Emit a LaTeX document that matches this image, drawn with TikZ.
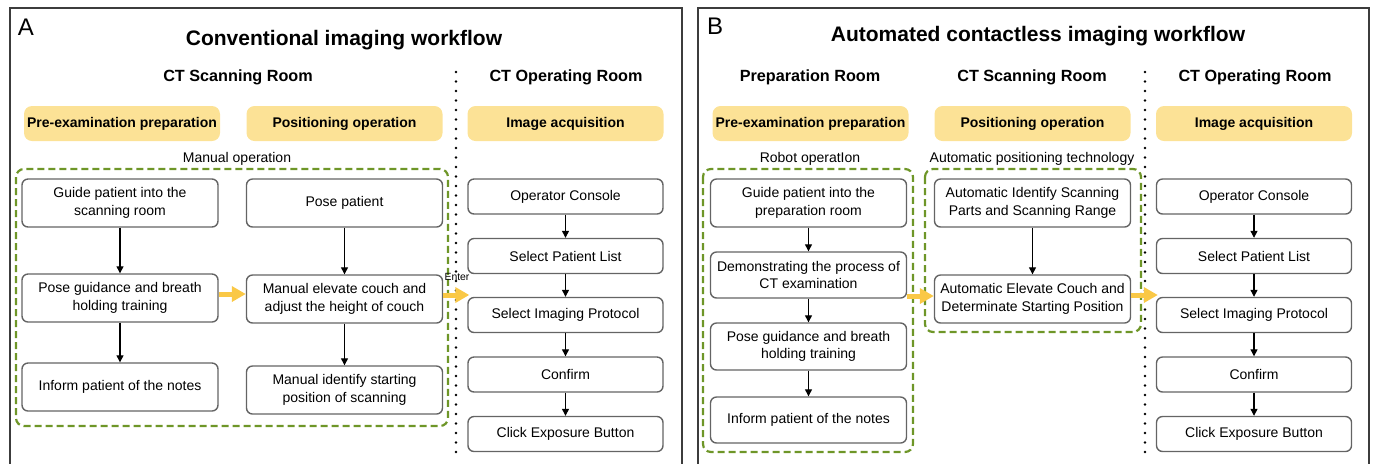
\documentclass[tikz,border=0pt]{standalone}
\usepackage{fontspec}
\setmainfont{Liberation Sans}
\usetikzlibrary{arrows.meta}
\definecolor{boxgray}{RGB}{100,100,100}
\definecolor{hdrfill}{RGB}{252,226,150}
\definecolor{flowyellow}{RGB}{250,200,70}
\definecolor{groupgreen}{RGB}{110,150,40}
\definecolor{framegray}{RGB}{60,60,60}

\begin{document}
\begin{tikzpicture}[x=0.5pt,y=-0.5pt,
  stepbox/.style={draw=boxgray, line width=0.7pt, rounded corners=3pt, fill=white,
    align=center, inner sep=0pt, minimum width=98pt, minimum height=24pt,
    font=\fontsize{7}{8.8}\selectfont},
  shortbox/.style={stepbox, minimum width=97.5pt, minimum height=17.5pt},
  header/.style={fill=hdrfill, rounded corners=4pt, minimum width=98pt,
    minimum height=17.5pt, inner sep=0pt, font=\bfseries\fontsize{7}{8}\selectfont},
  room/.style={font=\bfseries\fontsize{8.1}{9}\selectfont},
  maintitle/.style={font=\bfseries\fontsize{10.5}{12}\selectfont},
  panel/.style={font=\fontsize{12}{14}\selectfont},
  note/.style={font=\fontsize{7}{8}\selectfont},
  group/.style={draw=groupgreen, line width=1.1pt, dash pattern=on 3.5pt off 2pt, rounded corners=4pt},
  sep/.style={line width=1.4pt, line cap=round, dash pattern=on 0pt off 4.75pt},
  blk/.style={-{Triangle[length=3.5pt,width=3.5pt]}, line width=0.6pt, black},
  yarrow/.style={-{Triangle[length=7pt,width=7.5pt]}, line width=2.5pt, flowyellow}
]
\useasboundingbox (0,0) rectangle (1375,463);
\clip (0,0) rectangle (1375,463);

% panel frames
\draw[framegray, line width=0.6pt] (10,8) rectangle (682,475);
\draw[framegray, line width=0.6pt] (698,8) rectangle (1369,475);

% ---------------- Panel A ----------------
\node[panel] (labA) at (26,27) {A};
\node[maintitle] (titleA) at (344,40) {Conventional imaging workflow};
\node[room] (roomA1) at (238,77) {CT Scanning Room};
\node[room] (roomA2) at (566,77) {CT Operating Room};

\node[header] (hA1) at (122,123.5) {Pre-examination preparation};
\node[header] (hA2) at (344.5,123.5) {Positioning operation};
\node[header] (hA3) at (565.5,123.5) {Image acquisition};

\node[note] (opA) at (237,159) {Manual operation};
\draw[group] (16,169) rectangle (448,426);
\draw[sep] (456,72) -- (456,456);

\node[stepbox] (a1) at (120,203) {Guide patient into the\\scanning room};
\node[stepbox] (a2) at (120,298) {Pose guidance and breath\\holding training};
\node[stepbox] (a3) at (120,387) {Inform patient of the notes};
\node[stepbox] (a4) at (344.5,203) {Pose patient};
\node[stepbox] (a5) at (344.5,299) {Manual elevate couch and\\adjust the height of couch};
\node[stepbox] (a6) at (344.5,390) {Manual identify starting\\position of scanning};

\node[shortbox] (a7) at (565.5,196.5) {Operator Console};
\node[shortbox] (a8) at (565.5,256) {Select Patient List};
\node[shortbox] (a9) at (565.5,315) {Select Imaging Protocol};
\node[shortbox] (a10) at (565.5,374.5) {Confirm};
\node[shortbox] (a11) at (565.5,434) {Click Exposure Button};

\draw[blk] (a1) -- (a2);
\draw[blk] (a2) -- (a3);
\draw[blk] (a4) -- (a5);
\draw[blk] (a5) -- (a6);
\draw[blk] (a7) -- (a8);
\draw[blk] (a8) -- (a9);
\draw[blk] (a9) -- (a10);
\draw[blk] (a10) -- (a11);

\draw[yarrow] ([yshift=2pt]a2.east) -- ([yshift=2pt]a2.east -| a5.west);
\draw[yarrow] ([yshift=10pt]a9.west -| a5.east) -- ([yshift=10pt,xshift=1pt]a9.west);
\node[font=\fontsize{5.2}{6}\selectfont] (enterA) at (457,277) {Enter};

% ---------------- Panel B ----------------
\node[panel] (labB) at (715,26) {B};
\node[maintitle] (titleB) at (1038,36) {Automated contactless imaging workflow};
\node[room] (roomB1) at (810,77) {Preparation Room};
\node[room] (roomB2) at (1032,77) {CT Scanning Room};
\node[room] (roomB3) at (1255,77) {CT Operating Room};

\node[header] (hB1) at (810.5,123.5) {Pre-examination preparation};
\node[header] (hB2) at (1032.5,123.5) {Positioning operation};
\node[header] (hB3) at (1254,123.5) {Image acquisition};

\node[note] (opB1) at (810,159) {Robot operatIon};
\node[note] (opB2) at (1032,159) {Automatic positioning technology};
\draw[group] (703,169) rectangle (913,452);
\draw[group] (925,169) rectangle (1141,332);
\draw[sep] (1145,72) -- (1145,456);

\node[stepbox] (b1) at (808.5,203) {Guide patient into the\\preparation room};
\node[stepbox, minimum height=23pt] (b2) at (808.5,275) {Demonstrating the process of\\CT examination};
\node[stepbox, minimum height=23.5pt] (b3) at (808.5,346.5) {Pose guidance and breath\\holding training};
\node[stepbox, minimum height=23pt] (b4) at (808.5,420) {Inform patient of the notes};
\node[stepbox] (b5) at (1032.5,203) {Automatic Identify Scanning\\Parts and Scanning Range};
\node[stepbox] (b6) at (1032.5,299) {Automatic Elevate Couch and\\Determinate Starting Position};

\node[shortbox] (b7) at (1254,196.5) {Operator Console};
\node[shortbox] (b8) at (1254,256) {Select Patient List};
\node[shortbox] (b9) at (1254,315) {Select Imaging Protocol};
\node[shortbox] (b10) at (1254,374.5) {Confirm};
\node[shortbox] (b11) at (1254,434) {Click Exposure Button};

\draw[blk] (b1) -- (b2);
\draw[blk] (b2) -- (b3);
\draw[blk] (b3) -- (b4);
\draw[blk] (b5) -- (b6);
\draw[blk] (b7) -- (b8);
\draw[blk] (b8) -- (b9);
\draw[blk] (b9) -- (b10);
\draw[blk] (b10) -- (b11);

\draw[yarrow] ([yshift=1.5pt]b6.west -| b2.east) -- ([yshift=1.5pt]b6.west);
\draw[yarrow] ([yshift=10pt]b9.west -| b6.east) -- ([yshift=10pt,xshift=1pt]b9.west);
\end{tikzpicture}
\end{document}
